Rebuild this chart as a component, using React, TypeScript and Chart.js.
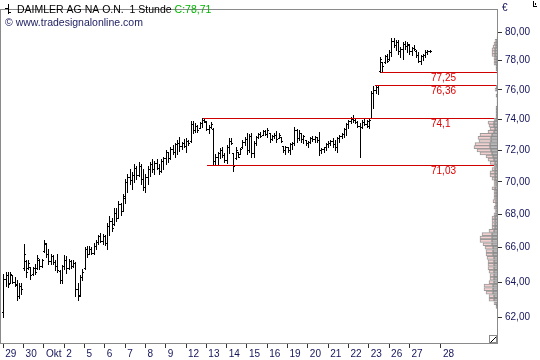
import { useEffect, useRef } from "react";
import { Chart, registerables } from "chart.js";

Chart.register(...registerables);

// ---- hourly OHLC bars (Xetra, 9 bars per trading day) ----
const highs = [
  64.48, 64.59, 64.59, 64.59, 64.43, 64.31, 64.14, 63.92, 63.92, 66.19,
  65.28, 65.28, 64.88, 64.88, 65.05, 65.56, 65.33, 65.33, 66.48, 66.25,
  65.90, 65.62, 65.56, 65.28, 65.62, 64.71, 64.99, 65.56, 65.50, 65.33,
  65.28, 65.28, 65.16, 63.92, 64.43, 64.76, 66.02, 66.08, 66.08, 66.02,
  66.25, 66.43, 66.77, 66.89, 66.83, 66.77, 67.48, 67.89, 67.77, 68.37,
  68.37, 68.79, 68.67, 69.27, 70.18, 70.49, 70.80, 70.61, 71.11, 70.98,
  71.23, 71.11, 70.80, 70.49, 70.98, 71.23, 71.42, 71.29, 71.42, 71.11,
  71.42, 71.60, 72.04, 71.92, 72.23, 72.36, 72.48, 72.68, 72.87, 72.55,
  72.74, 72.80, 72.68, 73.89, 73.89, 73.76, 73.63, 73.83, 74.08, 74.10,
  73.89, 73.63, 73.83, 73.44, 71.73, 71.92, 72.17, 72.23, 71.85, 72.36,
  72.80, 72.80, 71.85, 72.23, 71.92, 72.17, 72.68, 72.87, 73.12, 73.06,
  73.12, 72.61, 72.93, 73.12, 73.18, 73.31, 73.31, 73.44, 73.12, 72.99,
  73.12, 73.25, 73.12, 72.87, 72.30, 72.30, 72.23, 72.48, 72.55, 73.50,
  73.38, 73.31, 73.12, 72.99, 72.68, 72.61, 72.87, 72.93, 72.93, 72.87,
  73.18, 72.17, 72.23, 72.48, 72.61, 72.68, 72.80, 72.68, 72.87, 72.99,
  73.12, 73.44, 73.76, 73.96, 74.15, 74.34, 74.08, 73.89, 73.76, 73.96,
  74.08, 73.96, 74.08, 75.92, 76.25, 76.36, 76.36, 78.27, 77.93, 78.41,
  78.48, 78.75, 79.58, 79.58, 79.44, 79.44, 78.96, 79.31, 79.37, 79.31,
  79.17, 78.96, 79.10, 78.75, 78.62, 78.41, 78.48, 78.75, 78.75, 78.75,
];
const lows = [
  62.05, 63.75, 63.70, 63.92, 63.92, 63.75, 62.98, 63.09, 63.31, 64.71,
  64.31, 64.76, 64.20, 64.43, 64.48, 64.76, 64.76, 64.88, 65.73, 65.45,
  65.05, 65.05, 65.05, 64.71, 64.59, 63.92, 63.92, 64.76, 64.54, 64.76,
  64.82, 64.88, 63.20, 62.98, 63.20, 64.14, 64.76, 65.45, 65.62, 65.62,
  65.62, 65.90, 66.19, 66.31, 66.19, 66.14, 65.90, 66.77, 67.01, 67.36,
  67.60, 67.77, 67.95, 68.19, 68.67, 69.39, 69.88, 69.57, 70.00, 70.18,
  70.36, 69.88, 69.51, 69.39, 69.88, 70.36, 70.61, 70.49, 70.80, 70.49,
  70.61, 70.80, 71.11, 71.23, 71.42, 71.73, 71.60, 71.73, 71.98, 72.11,
  72.23, 71.92, 72.36, 72.55, 73.12, 73.18, 73.18, 73.44, 73.50, 73.83,
  73.31, 73.12, 73.44, 71.03, 71.03, 71.05, 71.48, 71.54, 71.23, 71.17,
  71.85, 72.42, 70.67, 71.42, 71.54, 71.73, 72.17, 72.36, 71.73, 71.92,
  71.54, 71.54, 72.36, 72.80, 72.87, 72.99, 72.99, 72.87, 72.55, 72.68,
  72.80, 72.55, 72.80, 72.55, 71.92, 71.79, 71.92, 71.73, 72.11, 72.36,
  72.55, 72.68, 72.55, 72.48, 72.36, 72.23, 72.48, 72.61, 72.55, 72.55,
  71.67, 71.85, 71.92, 72.04, 72.23, 72.36, 72.23, 72.04, 71.92, 72.55,
  72.80, 72.87, 72.99, 73.44, 73.76, 73.83, 73.76, 73.50, 71.54, 73.44,
  73.63, 73.50, 73.44, 74.08, 74.80, 75.79, 75.72, 77.25, 77.25, 77.87,
  77.93, 78.07, 78.34, 78.96, 78.75, 78.48, 78.27, 78.14, 78.82, 78.62,
  78.48, 78.41, 78.75, 78.27, 77.93, 77.80, 78.07, 78.27, 78.48, 78.62,
];
const opens = [
  62.30, 64.20, 64.40, 63.95, 64.40, 64.00, 63.90, 63.20, 63.75, 64.80,
  65.20, 64.80, 64.85, 64.45, 64.80, 64.80, 65.30, 64.90, 65.80, 66.20,
  65.60, 65.20, 65.50, 65.15, 64.90, 64.65, 64.10, 64.90, 65.30, 64.80,
  65.20, 64.90, 65.10, 63.60, 63.25, 64.30, 64.80, 65.90, 65.65, 65.95,
  65.70, 66.10, 66.35, 66.70, 66.40, 66.70, 66.30, 67.30, 67.60, 67.40,
  68.10, 67.80, 68.60, 68.20, 69.00, 70.00, 70.30, 70.10, 70.40, 70.90,
  70.40, 71.00, 70.20, 69.70, 70.30, 70.80, 71.10, 70.80, 71.20, 70.90,
  70.70, 71.30, 71.50, 71.90, 71.50, 72.10, 71.90, 72.40, 72.50, 72.30,
  72.45, 72.30, 72.60, 72.60, 73.70, 73.30, 73.60, 73.45, 73.75, 73.95,
  73.85, 73.40, 73.50, 73.40, 71.30, 71.60, 71.80, 72.00, 71.70, 71.40,
  72.20, 72.60, 71.80, 71.50, 71.90, 71.75, 72.20, 72.55, 72.70, 72.00,
  72.90, 71.80, 72.50, 72.85, 73.05, 73.00, 73.25, 73.05, 73.10, 72.70,
  72.90, 73.00, 72.80, 72.85, 72.25, 72.00, 72.20, 72.00, 72.40, 72.45,
  73.30, 72.80, 73.10, 72.70, 72.65, 72.45, 72.55, 72.80, 72.70, 72.85,
  72.65, 72.00, 72.10, 72.20, 72.40, 72.50, 72.60, 72.40, 72.20, 72.80,
  72.95, 73.05, 73.40, 73.70, 73.90, 74.05, 73.95, 73.85, 73.60, 73.50,
  73.85, 73.70, 73.60, 74.10, 75.80, 76.00, 76.20, 77.30, 77.90, 77.90,
  78.30, 78.10, 78.60, 79.40, 79.10, 79.30, 78.70, 78.80, 79.20, 79.00,
  79.10, 78.70, 78.90, 78.70, 78.40, 78.00, 78.30, 78.40, 78.60, 78.70,
];
const closes = [
  64.20, 64.40, 63.90, 64.45, 64.00, 63.85, 63.20, 63.80, 63.60, 65.60,
  64.60, 65.10, 64.40, 64.80, 64.60, 65.40, 64.90, 65.25, 66.30, 65.60,
  65.20, 65.50, 65.15, 64.90, 64.70, 64.10, 64.90, 65.30, 64.80, 65.20,
  64.90, 65.10, 63.60, 63.20, 64.30, 64.60, 65.90, 65.60, 65.95, 65.70,
  66.10, 66.35, 66.70, 66.40, 66.70, 66.30, 67.30, 67.60, 67.20, 68.10,
  67.80, 68.60, 68.20, 69.10, 70.00, 70.30, 70.10, 70.40, 70.90, 70.40,
  71.00, 70.20, 69.70, 70.30, 70.80, 71.10, 70.80, 71.20, 70.90, 70.70,
  71.30, 71.50, 71.90, 71.50, 72.10, 71.90, 72.40, 72.50, 72.30, 72.45,
  72.30, 72.60, 72.50, 73.70, 73.30, 73.60, 73.30, 73.75, 73.95, 73.90,
  73.40, 73.50, 73.70, 71.30, 71.60, 71.80, 72.00, 71.70, 71.40, 72.20,
  72.60, 72.50, 71.00, 72.00, 71.60, 72.10, 72.55, 72.70, 72.00, 72.90,
  71.80, 72.50, 72.85, 73.05, 72.95, 73.25, 73.05, 73.35, 72.70, 72.90,
  73.00, 72.70, 73.00, 72.60, 72.00, 72.20, 72.00, 72.40, 72.45, 73.30,
  72.80, 73.10, 72.70, 72.90, 72.45, 72.55, 72.80, 72.70, 72.85, 72.65,
  72.00, 72.10, 72.20, 72.40, 72.50, 72.60, 72.40, 72.20, 72.80, 72.95,
  73.05, 73.40, 73.70, 73.90, 74.05, 73.95, 73.85, 73.60, 73.50, 73.85,
  73.70, 73.90, 74.00, 75.80, 76.00, 76.20, 76.30, 78.10, 77.60, 78.30,
  78.00, 78.60, 79.40, 79.10, 79.30, 78.70, 78.80, 79.20, 79.00, 79.20,
  78.70, 78.90, 78.80, 78.40, 78.00, 78.30, 78.40, 78.60, 78.70, 78.71,
];

// ---- x axis: first bar of each trading day ----
const dayTickIndex = [0, 9, 18, 27, 36, 45, 54, 63, 72, 81, 90, 99, 108, 117, 126, 135, 144, 153, 162, 171, 180, 194];
const dayTickLabels = ["29", "30", "Okt", "2", "5", "6", "7", "8", "9", "12", "13", "14", "15", "16", "19", "20", "21", "22", "23", "26", "27", "28"];

// ---- y axis ticks ----
const yTickValues = [62, 64, 66, 68, 70, 72, 74, 76, 78, 80];

// ---- horizontal levels ----
const levels = [77.25, 76.36, 74.1, 71.03];
const levelLabels = ["77,25", "76,36", "74,1", "71,03"];
const levelStart = [167.5, 164.8, 88.7, 90.2];

// ---- volume profile ----
const profilePrices = [
  62.6, 62.8, 63.0, 63.2, 63.4, 63.6, 63.8, 64.0, 64.2, 64.4,
  64.6, 64.8, 65.0, 65.2, 65.4, 65.6, 65.8, 66.0, 66.2, 66.4,
  66.6, 66.8, 67.0, 67.2, 67.4, 67.6, 67.8, 68.0, 68.2, 68.4,
  68.6, 68.8, 69.0, 69.2, 69.4, 69.6, 69.8, 70.0, 70.2, 70.4,
  70.6, 70.8, 71.0, 71.2, 71.4, 71.6, 71.8, 72.0, 72.2, 72.4,
  72.6, 72.8, 73.0, 73.2, 73.4, 73.6, 73.8, 74.0, 74.2, 74.4,
  74.6, 74.8, 75.0, 75.2, 75.4, 75.6, 75.8, 76.0, 76.2, 76.4,
  76.6, 76.8, 77.0, 77.2, 77.4, 77.6, 77.8, 78.0, 78.2, 78.4,
  78.6, 78.8, 79.0, 79.2, 79.4, 79.6,
];
const profileGray = [
  2, 2, 4, 4, 5, 5, 5, 4, 4, 4,
  4, 4, 4, 4, 4, 5, 5, 5, 6, 6,
  6, 6, 4, 3, 3, 3, 3, 2, 2, 2,
  2, 2, 2, 2, 2, 3, 2, 2, 3, 3,
  3, 3, 2, 3, 4, 5, 6, 7, 8, 8,
  7, 7, 6, 4, 3, 4, 4, 2, 2, 2,
  2, 2, 1, 1, 1, 2, 1, 2, 2, 0,
  0, 0, 0, 1, 2, 2, 2, 2, 2, 3,
  3, 3, 2, 2, 2, 1,
];
const profilePink = [
  0, 2, 5, 5, 7, 9, 9, 5, 4, 4,
  5, 6, 6, 6, 7, 7, 7, 8, 9, 12,
  12, 10, 5, 3, 3, 3, 3, 2, 1, 2,
  1, 3, 2, 2, 2, 3, 2, 2, 3, 5,
  5, 3, 2, 5, 6, 7, 12, 14, 16, 15,
  12, 13, 12, 6, 5, 5, 6, 2, 0, 0,
  0, 0, 0, 0, 0, 0, 0, 1, 0, 0,
  0, 0, 0, 0, 0, 0, 2, 2, 2, 3,
  3, 3, 3, 2, 1, 0,
];

const FONT = "'Liberation Sans', Arial, sans-serif";
const TEXT_NAVY = "#14145a";

const ohlcPlugin = {
  id: "ohlcBars",
  beforeDatasetsDraw(chart: any) {
    const { ctx, chartArea, scales } = chart;
    const xs = scales.x;
    const ys = scales.y;
    ctx.save();
    ctx.beginPath();
    ctx.rect(chartArea.left, chartArea.top, chartArea.right - chartArea.left, chartArea.bottom - chartArea.top);
    ctx.clip();
    ctx.fillStyle = "#000";
    for (let i = 0; i < highs.length; i++) {
      const px = Math.round(xs.getPixelForValue(i));
      const hy = Math.round(ys.getPixelForValue(highs[i]));
      const ly = Math.round(ys.getPixelForValue(lows[i]));
      const oy = Math.round(ys.getPixelForValue(opens[i]));
      const cy = Math.round(ys.getPixelForValue(closes[i]));
      ctx.fillRect(px, hy, 1, Math.max(1, ly - hy + 1));
      ctx.fillRect(px - 1, oy, 1, 1);
      ctx.fillRect(px + 1, cy, 1, 1);
    }
    // horizontal support / resistance levels (crisp 1px)
    ctx.fillStyle = "#d00000";
    for (let k = 0; k < levels.length; k++) {
      const y = Math.round(ys.getPixelForValue(levels[k]));
      const x0 = Math.round(xs.getPixelForValue(levelStart[k]));
      ctx.fillRect(x0, y, chartArea.right - x0, 1);
    }
    ctx.restore();
  },
};

const decorPlugin = {
  id: "decor",
  afterDraw(chart: any) {
    const { ctx, chartArea, scales } = chart;
    const ys = scales.y;
    ctx.save();
    // frame
    ctx.strokeStyle = "#8a8a8a";
    ctx.lineWidth = 1;
    ctx.strokeRect(chartArea.left + 0.5, chartArea.top + 0.5, chartArea.right - chartArea.left - 1, chartArea.bottom - chartArea.top);

    // level labels
    ctx.font = `10px ${FONT}`;
    ctx.fillStyle = "#e00000";
    ctx.textBaseline = "middle";
    ctx.textAlign = "left";
    for (let k = 0; k < levels.length; k++) {
      const y = Math.round(ys.getPixelForValue(levels[k])) + 6;
      ctx.fillText(levelLabels[k], chartArea.right - 67, y);
    }

    // title icon
    ctx.fillStyle = "#000";
    ctx.fillRect(8, 4, 1, 10);
    ctx.fillRect(5, 8, 3, 1);
    ctx.fillRect(9, 12, 2, 1);

    // title
    ctx.font = `10.5px ${FONT}`;
    ctx.fillStyle = "#000";
    const t1 = "DAIMLER AG NA O.N.  1 Stunde ";
    ctx.fillText(t1, 17, 10);
    const w1 = ctx.measureText(t1).width;
    ctx.fillStyle = "#00b400";
    ctx.fillText("C:78,71", 17 + w1, 10);
    ctx.fillStyle = "#1c1c60";
    ctx.fillText("\u00a9 www.tradesignalonline.com", 5, 23);

    // currency
    ctx.font = `10px ${FONT}`;
    ctx.fillStyle = TEXT_NAVY;
    ctx.fillText("\u20ac", chartArea.right + 4, 8);

    // resize icon bottom-right of plot
    ctx.strokeStyle = "#8a8a8a";
    ctx.strokeRect(chartArea.right - 8.5, chartArea.bottom - 7.5, 7, 7);
    ctx.strokeStyle = "#000";
    ctx.beginPath();
    ctx.moveTo(chartArea.right - 7.5, chartArea.bottom - 0.5);
    ctx.lineTo(chartArea.right - 2, chartArea.bottom - 6);
    ctx.stroke();

    // corner icon top-right
    ctx.fillStyle = "#000";
    ctx.fillRect(533, 1, 1, 6);
    ctx.fillRect(533, 6, 4, 1);
    ctx.fillRect(535, 3, 1, 2);
    ctx.restore();
  },
};

export default function App() {
  const ref = useRef<HTMLCanvasElement>(null);
  useEffect(() => {
    const canvas = ref.current;
    if (!canvas) return;
    const xMin = -1.463;
    const xMax = 219.28;
    const grayData = profilePrices
      .map((p, k) => ({ x: profileGray[k], y: p }))
      .filter((d) => d.x > 0);
    const pinkData = profilePrices
      .map((p, k) => ({ x: profilePink[k], y: p }))
      .filter((d) => d.x > 0);
    const chart = new Chart(canvas, {
      type: "bar",
      data: {
        datasets: [
          {
            type: "bar",
            indexAxis: "y",
            xAxisID: "xv",
            yAxisID: "y",
            data: grayData,
            backgroundColor: "#b9b9b9",
            borderColor: "#8c8c8c",
            borderWidth: 1,
            borderSkipped: false,
            barThickness: 3,
            stack: "vp",
          },
          {
            type: "bar",
            indexAxis: "y",
            xAxisID: "xv",
            yAxisID: "y",
            data: pinkData,
            backgroundColor: "#f3cfcf",
            borderColor: "#9a9a9a",
            borderWidth: 1,
            borderSkipped: false,
            barThickness: 3,
            stack: "vp",
          },
        ] as any,
      },
      options: {
        responsive: false,
        animation: false,
        devicePixelRatio: 1,
        events: [],
        layout: { padding: { top: 1, left: 0, right: 0, bottom: 0 } },
        plugins: {
          legend: { display: false },
          tooltip: { enabled: false },
          title: { display: false },
        },
        scales: {
          x: {
            type: "linear",
            min: xMin,
            max: xMax,
            offset: false,
            afterBuildTicks: (s: any) => {
              s.ticks = dayTickIndex.map((v) => ({ value: v }));
            },
            afterFit: (s: any) => {
              s.height = 17;
            },
            ticks: {
              autoSkip: false,
              maxRotation: 0,
              minRotation: 0,
              align: "start",
              labelOffset: 2,
              padding: 0,
              color: TEXT_NAVY,
              font: { family: FONT, size: 10 },
              callback: (_v: any, idx: number) => dayTickLabels[idx],
            },
            grid: { offset: false, drawOnChartArea: false, drawTicks: true, tickLength: 5, tickColor: "#333", color: "#333" },
            border: { display: false },
          },
          y: {
            type: "logarithmic",
            position: "right",
            min: 60.61,
            max: 81.69,
            offset: false,
            afterBuildTicks: (s: any) => {
              s.ticks = yTickValues.map((v) => ({ value: v }));
            },
            afterFit: (s: any) => {
              s.width = 42;
            },
            ticks: {
              autoSkip: false,
              padding: 3,
              color: TEXT_NAVY,
              font: { family: FONT, size: 10 },
              callback: (v: any) => Number(v).toFixed(2).replace(".", ","),
            },
            grid: { offset: false, drawOnChartArea: false, drawTicks: true, tickLength: 4, tickColor: "#333", color: "#333" },
            border: { display: false },
          },
          xv: {
            type: "linear",
            axis: "x",
            display: false,
            offset: false,
            grid: { offset: false },
            min: 0,
            max: 498,
            reverse: true,
            stacked: true,
          },
        },
      } as any,
      plugins: [ohlcPlugin, decorPlugin],
    });
    return () => chart.destroy();
  }, []);
  return (
    <div style={{ position: "fixed", left: 0, top: 0, width: 540, height: 360, background: "#fff" }}>
      <canvas ref={ref} width={540} height={360} style={{ display: "block", width: 540, height: 360 }} />
    </div>
  );
}
